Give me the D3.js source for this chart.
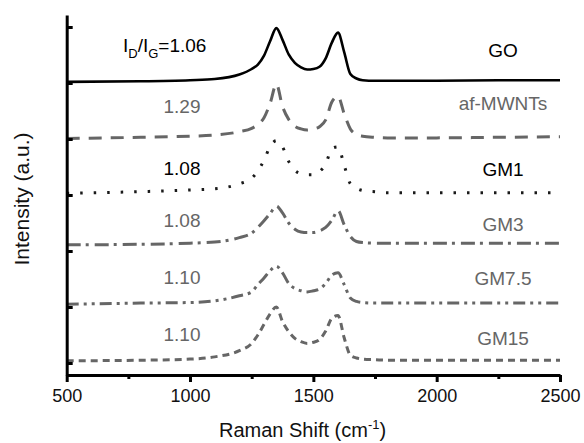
<!DOCTYPE html>
<html>
<head>
<meta charset="utf-8">
<script src="https://cdn.jsdelivr.net/npm/d3@7"></script>
<style>
  body { margin: 0; background: #fff; }
  text { font-family: "Liberation Sans", Arial, sans-serif; }
</style>
</head>
<body>
<div id="chart"></div>
<script>
// Raman shift grid (cm-1) shared by all spectra
const shifts = [500, 800, 1000, 1100, 1200, 1250, 1275, 1300, 1325, 1350, 1375, 1400, 1425, 1450, 1475,
    1500, 1525, 1550, 1575, 1600, 1625, 1650, 1675, 1700, 1750, 1800, 2000, 2250, 2500];

// stacked intensities (a.u.)
const goIntensity = [5.02, 5.03, 5.05, 5.07, 5.15, 5.25, 5.33, 5.49, 5.75, 5.98, 5.77, 5.51, 5.36, 5.28, 5.24,
    5.25, 5.29, 5.44, 5.72, 5.90, 5.55, 5.16, 5.08, 5.05, 5.04, 5.04, 5.04, 5.05, 5.05];
const mwntIntensity = [4.01, 4.03, 4.05, 4.07, 4.13, 4.19, 4.26, 4.38, 4.64, 4.98, 4.58, 4.35, 4.23, 4.18, 4.16,
    4.18, 4.22, 4.34, 4.66, 4.76, 4.45, 4.18, 4.08, 4.05, 4.03, 4.02, 4.02, 4.03, 4.04];
const gm1Intensity = [3.03, 3.06, 3.09, 3.11, 3.20, 3.30, 3.43, 3.62, 3.87, 3.97, 3.86, 3.60, 3.44, 3.38, 3.36,
    3.36, 3.42, 3.55, 3.83, 3.86, 3.53, 3.20, 3.12, 3.08, 3.06, 3.04, 3.04, 3.04, 3.04];
const gm3Intensity = [2.11, 2.12, 2.14, 2.16, 2.24, 2.32, 2.42, 2.54, 2.67, 2.80, 2.68, 2.50, 2.39, 2.34, 2.33,
    2.33, 2.36, 2.42, 2.55, 2.72, 2.47, 2.26, 2.17, 2.15, 2.14, 2.14, 2.14, 2.14, 2.14];
const gm75Intensity = [1.05, 1.07, 1.08, 1.11, 1.20, 1.27, 1.40, 1.52, 1.65, 1.73, 1.61, 1.42, 1.33, 1.29, 1.27,
    1.29, 1.32, 1.42, 1.57, 1.61, 1.40, 1.16, 1.10, 1.08, 1.07, 1.07, 1.07, 1.07, 1.07];
const gm15Intensity = [0.04, 0.05, 0.07, 0.11, 0.22, 0.35, 0.50, 0.69, 0.88, 1.00, 0.74, 0.56, 0.44, 0.38, 0.35,
    0.37, 0.42, 0.57, 0.80, 0.85, 0.45, 0.14, 0.09, 0.07, 0.06, 0.05, 0.05, 0.05, 0.05];

const sampleNames = ['GO', 'af-MWNTs', 'GM1', 'GM3', 'GM7.5', 'GM15'];
const ratioLabels = ['1.06', '1.29', '1.08', '1.08', '1.10', '1.10'];

const xTicks = [500, 1000, 1500, 2000, 2500];
const xMinorTicks = [750, 1250, 1750, 2250];
const yTicks = [0, 1, 2, 3, 4, 5, 6];

const svgWidth = 584;
const svgHeight = 443;
const margin = { top: 15, right: 24, bottom: 68, left: 66.7 };
const width = svgWidth - margin.left - margin.right;
const height = svgHeight - margin.top - margin.bottom;

const svg = d3.select('#chart')
    .append('svg')
    .attr('width', svgWidth)
    .attr('height', svgHeight);

const bounds = svg.append('g')
    .attr('transform', `translate(${margin.left}, ${margin.top})`);

const xScale = d3.scaleLinear()
    .domain([500, 2500])
    .range([0, width]);

const yScale = d3.scaleLinear()
    .domain([-0.214, 6.214])
    .range([height, 0]);

const series = [
    { name: sampleNames[0], values: goIntensity, color: '#000', dash: null, width: 2.6, textColor: '#000' },
    { name: sampleNames[1], values: mwntIntensity, color: '#666', dash: '13,9', width: 3, textColor: '#666' },
    { name: sampleNames[2], values: gm1Intensity, color: '#1a1a1a', dash: '2.5,11', width: 3, textColor: '#000' },
    { name: sampleNames[3], values: gm3Intensity, color: '#666', dash: '14,5,3,6', width: 3, textColor: '#666' },
    { name: sampleNames[4], values: gm75Intensity, color: '#666', dash: '12,5,3,5,3,5', width: 3, textColor: '#666' },
    { name: sampleNames[5], values: gm15Intensity, color: '#666', dash: '7,5', width: 3, textColor: '#666' }
];

const line = d3.line()
    .x(d => xScale(d[0]))
    .y(d => yScale(d[1]))
    .curve(d3.curveMonotoneX);

bounds.selectAll('path.spectrum')
    .data(series)
    .join('path')
    .attr('class', 'spectrum')
    .attr('fill', 'none')
    .attr('stroke', d => d.color)
    .attr('stroke-width', d => d.width)
    .attr('stroke-dasharray', d => d.dash)
    .attr('d', d => line(shifts.map((s, i) => [s, d.values[i]])));

// axes
const xAxisGroup = bounds.append('g')
    .attr('transform', `translate(0, ${height})`)
    .call(d3.axisBottom(xScale)
        .tickValues(xTicks)
        .tickFormat(d3.format('d'))
        .tickSize(7)
        .tickSizeOuter(0)
        .tickPadding(7));

bounds.append('g')
    .attr('transform', `translate(0, ${height})`)
    .call(d3.axisBottom(xScale)
        .tickValues(xMinorTicks)
        .tickSize(4)
        .tickSizeOuter(0)
        .tickFormat(''))
    .select('.domain').remove();

const yAxisGroup = bounds.append('g')
    .call(d3.axisLeft(yScale)
        .tickValues(yTicks)
        .tickSize(-6)
        .tickSizeOuter(0)
        .tickFormat(''));

bounds.selectAll('.domain')
    .attr('stroke', '#000')
    .attr('stroke-width', 3);
bounds.selectAll('.tick line')
    .attr('stroke', '#000')
    .attr('stroke-width', 3);

xAxisGroup.selectAll('text')
    .attr('font-size', 18)
    .attr('fill', '#111');

// axis titles
const xTitle = svg.append('text')
    .attr('x', 219)
    .attr('y', 437)
    .attr('font-size', 20)
    .attr('fill', '#111');
xTitle.append('tspan').text('Raman Shift (cm');
xTitle.append('tspan').attr('font-size', 13).attr('dy', -8).text('-1');
xTitle.append('tspan').attr('dy', 8).text(')');

svg.append('text')
    .attr('transform', 'translate(28.5, 199) rotate(-90)')
    .attr('text-anchor', 'middle')
    .attr('font-size', 21)
    .attr('fill', '#111')
    .text('Intensity (a.u.)');

// sample names on the right
const nameBaselines = [57, 110, 176, 231, 285, 345];
svg.selectAll('text.name')
    .data(series)
    .join('text')
    .attr('class', 'name')
    .attr('x', 503)
    .attr('y', (d, i) => nameBaselines[i])
    .attr('text-anchor', 'middle')
    .attr('font-size', 19)
    .attr('fill', d => d.textColor)
    .text(d => d.name);

// ID/IG ratios on the left
const ratioBaselines = [52, 113, 175, 227, 284, 340.5];
const ratioText = svg.selectAll('text.ratio')
    .data(series)
    .join('text')
    .attr('class', 'ratio')
    .attr('x', (d, i) => i === 0 ? 123 : 182)
    .attr('y', (d, i) => ratioBaselines[i])
    .attr('text-anchor', (d, i) => i === 0 ? 'start' : 'middle')
    .attr('font-size', 19)
    .attr('fill', d => d.textColor);

ratioText.filter((d, i) => i > 0)
    .text((d, i) => ratioLabels[i + 1]);

const first = ratioText.filter((d, i) => i === 0);
first.append('tspan').text('I');
first.append('tspan').attr('font-size', 13).attr('dy', 6).text('D');
first.append('tspan').attr('dy', -6).text('/I');
first.append('tspan').attr('font-size', 13).attr('dy', 6).text('G');
first.append('tspan').attr('dy', -6).text('=' + ratioLabels[0]);
</script>
</body>
</html>
